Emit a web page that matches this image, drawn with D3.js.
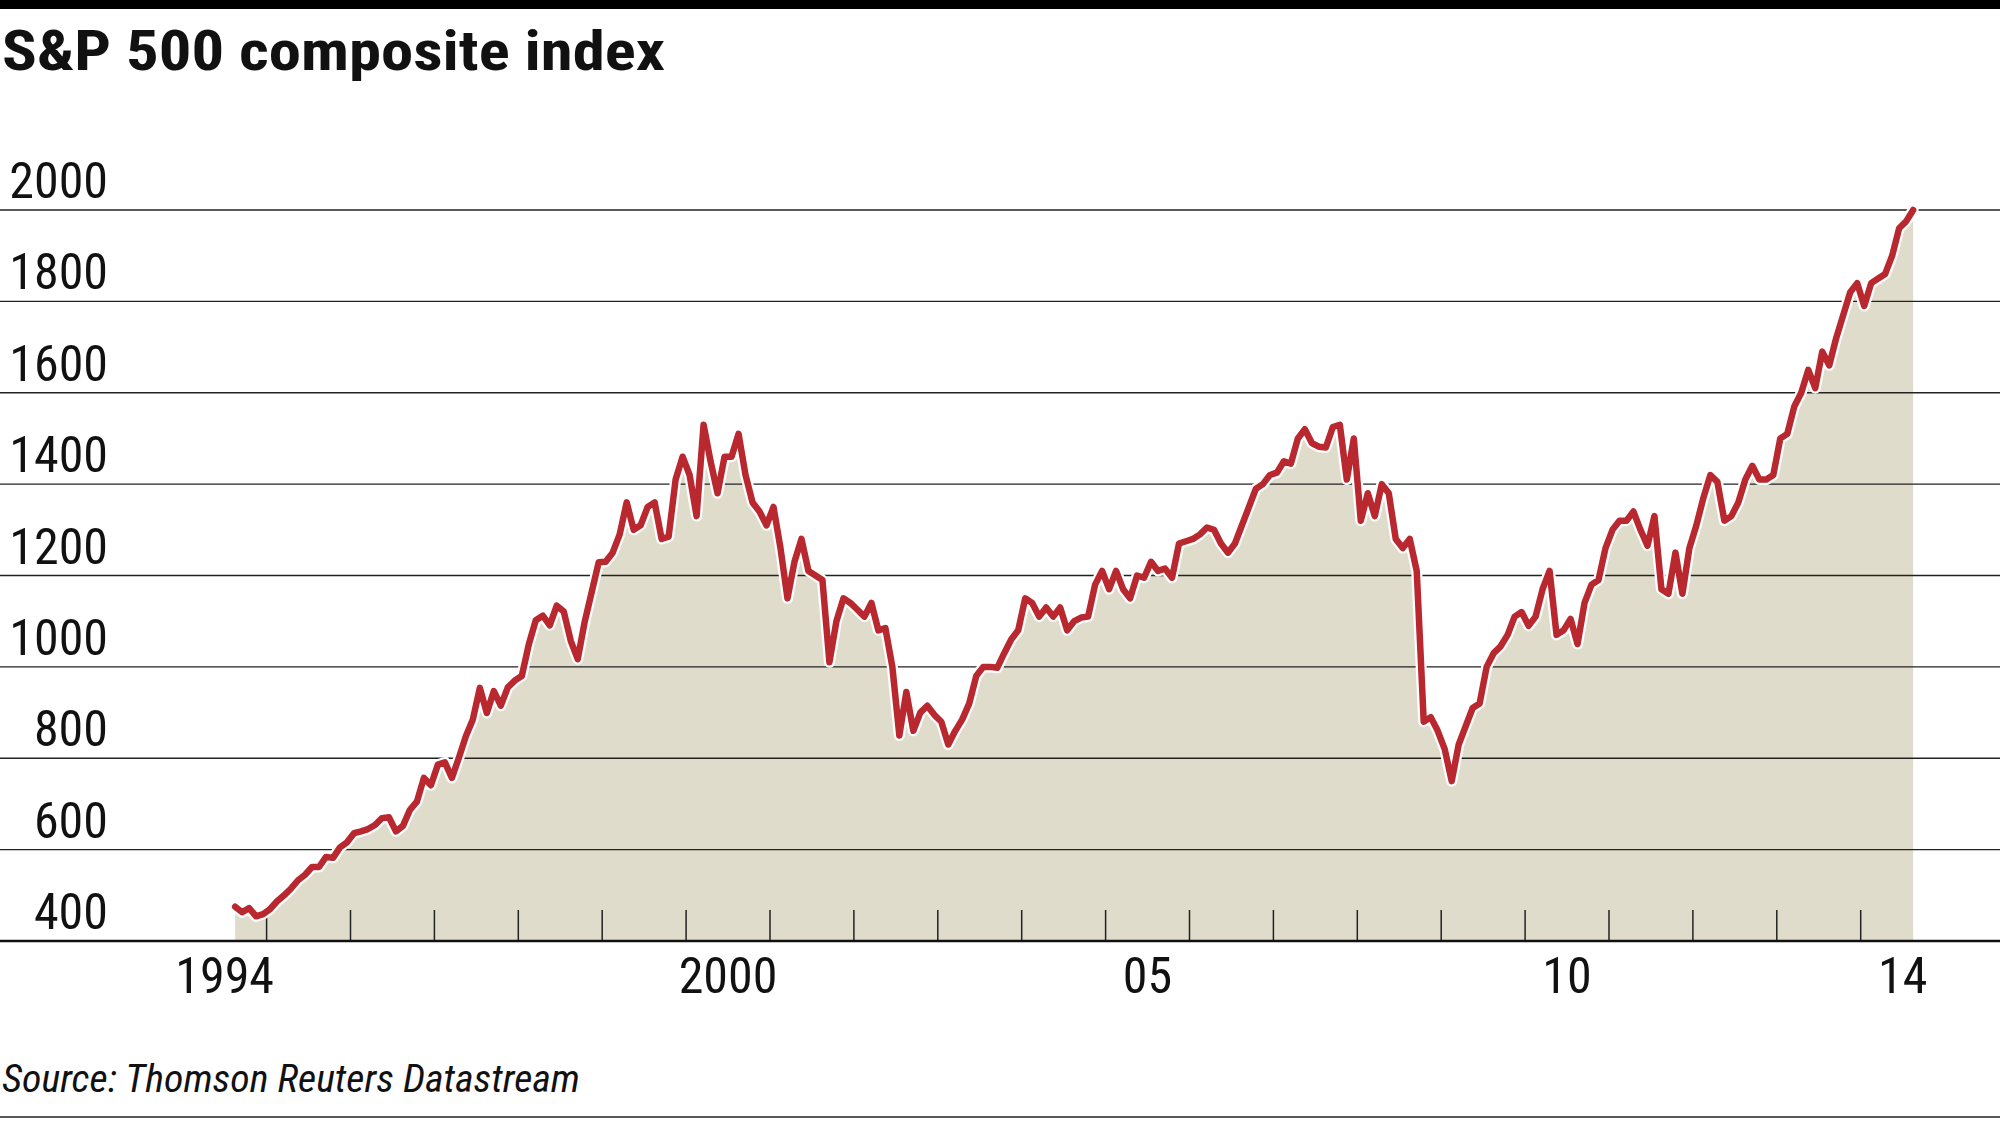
<!DOCTYPE html>
<html><head><meta charset="utf-8">
<script src="https://cdn.jsdelivr.net/npm/d3@7/dist/d3.min.js"></script>
<style>body{margin:0;background:#fff}svg{display:block}</style>
</head><body>
<svg id="c" width="2000" height="1125"></svg>
<script>
const title = "S&P 500 composite index";
const source = "Source: Thomson Reuters Datastream";
const startYear = 1994, startMonth = 7; // August 1994 (0-based month)
const values = [
 475,463,472,454,459,
 470,487,500,515,533,545,562,562,584,582,605,616,
 636,640,645,654,669,671,640,652,687,705,757,741,
 786,791,757,801,848,885,954,899,947,915,955,970,
 980,1049,1102,1112,1091,1134,1121,1057,1017,1099,1164,1229,
 1230,1250,1290,1360,1300,1310,1350,1360,1280,1285,1410,1460,
 1420,1330,1530,1450,1380,1460,1460,1510,1420,1360,1340,1310,
 1350,1260,1150,1230,1280,1210,1200,1190,1010,1100,1150,1140,
 1125,1110,1140,1080,1085,1000,850,945,860,900,915,895,
 880,830,860,885,920,980,1000,1000,998,1030,1060,1080,
 1150,1140,1110,1130,1110,1130,1080,1100,1108,1110,1180,1210,
 1170,1210,1170,1150,1200,1195,1230,1210,1215,1195,1270,1275,
 1280,1290,1305,1300,1270,1250,1270,1310,1350,1390,1400,1420,
 1425,1450,1445,1500,1520,1490,1482,1480,1525,1530,1410,1500,
 1320,1380,1330,1400,1380,1280,1260,1280,1210,880,890,860,
 820,750,830,870,910,920,1000,1030,1045,1070,1110,1120,
 1090,1110,1170,1210,1070,1080,1105,1050,1140,1180,1190,1260,
 1300,1320,1320,1340,1300,1265,1330,1170,1160,1250,1160,1260,
 1310,1370,1420,1405,1320,1330,1360,1410,1440,1410,1410,1420,
 1500,1510,1570,1600,1650,1610,1690,1660,1720,1770,1820,1840,
 1790,1840,1850,1860,1900,1960,1975,2000
];
const yTicks = [400,600,800,1000,1200,1400,1600,1800,2000];
const xLabels = [{year:1994,text:"1994"},{year:2000,text:"2000"},{year:2005,text:"05"},{year:2010,text:"10"},{year:2014,text:"14"}];
const tickYears = d3.range(1995, 2015);

const data = values.map((v,i)=>({t: startYear + (startMonth + i + 0.5)/12, v}));
const svg = d3.select("#c");
const font = "'Liberation Sans Narrow','Roboto Condensed',Roboto,'Liberation Sans',sans-serif";

const x = d3.scaleLinear().domain([1995, 2014]).range([266.6, 1860.7]);
const y = d3.scaleLinear().domain([400, 2000]).range([941, 210]);

svg.append("rect").attr("x",0).attr("y",0).attr("width",2000).attr("height",9).attr("fill","#000");
svg.append("text").attr("x",2).attr("y",70).attr("font-family",font).attr("font-weight","bold")
  .attr("font-size",56).attr("textLength",663).attr("lengthAdjust","spacingAndGlyphs").attr("fill","#111").text(title);

svg.append("path").datum(data)
  .attr("d", d3.area().x(d=>x(d.t)).y0(y(400)).y1(d=>y(d.v)))
  .attr("fill","#e0dccc");

svg.append("g").selectAll("line").data(yTicks.filter(d=>d>400)).join("line")
  .attr("x1",0).attr("x2",2000).attr("y1",d=>y(d)).attr("y2",d=>y(d))
  .attr("stroke","#222").attr("stroke-width",1.3);
svg.append("g").selectAll("text").data(yTicks).join("text")
  .attr("x",108).attr("y",d=>y(d)-12).attr("text-anchor","end")
  .attr("font-family",font).attr("font-size",50).attr("fill","#111").text(d=>d);

svg.append("g").selectAll("line").data(tickYears).join("line")
  .attr("x1",d=>x(d)).attr("x2",d=>x(d)).attr("y1",y(400)).attr("y2",y(400)-31)
  .attr("stroke","#222").attr("stroke-width",1.5);
svg.append("line").attr("x1",0).attr("x2",2000).attr("y1",y(400)).attr("y2",y(400))
  .attr("stroke","#111").attr("stroke-width",2.5);
svg.append("g").selectAll("text").data(xLabels).join("text")
  .attr("x",d=>x(d.year+0.5)).attr("y",993).attr("text-anchor","middle")
  .attr("font-family",font).attr("font-size",50).attr("fill","#111").text(d=>d.text);

const line = d3.line().x(d=>x(d.t)).y(d=>y(d.v));
svg.append("path").datum(data).attr("d",line).attr("fill","none")
  .attr("stroke","#fff").attr("stroke-width",11).attr("stroke-linejoin","round").attr("stroke-linecap","round");
svg.append("path").datum(data).attr("d",line).attr("fill","none")
  .attr("stroke","#b8282e").attr("stroke-width",6.5).attr("stroke-linejoin","round").attr("stroke-linecap","round");

svg.append("text").attr("x",2).attr("y",1092).attr("font-family",font).attr("font-style","italic")
  .attr("font-size",38).attr("textLength",578).attr("lengthAdjust","spacingAndGlyphs").attr("fill","#111").text(source);
svg.append("line").attr("x1",0).attr("x2",2000).attr("y1",1117).attr("y2",1117).attr("stroke","#222").attr("stroke-width",1.5);
</script>
</body></html>
